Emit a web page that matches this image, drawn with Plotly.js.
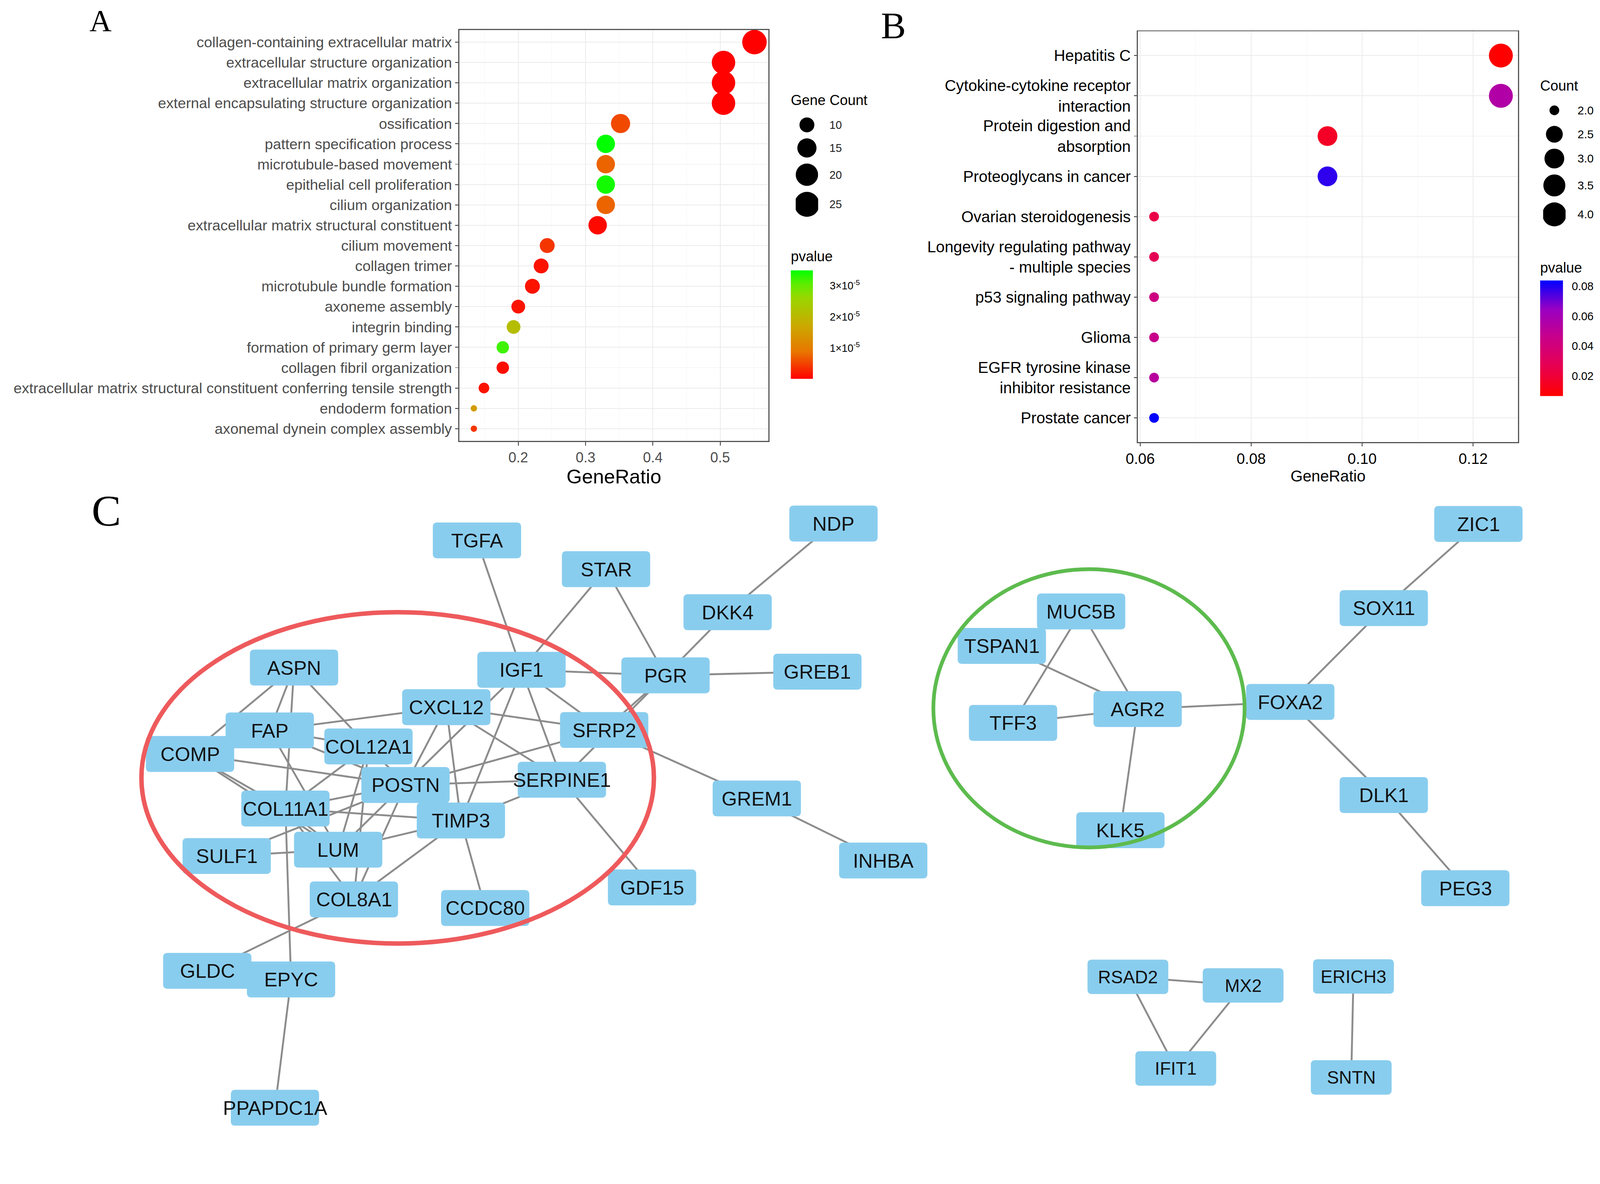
<!DOCTYPE html>
<html><head><meta charset="utf-8">
<script src="https://cdn.plot.ly/plotly-3.0.1.min.js"></script>
<style>html,body{margin:0;padding:0;background:#fff;overflow:hidden}#wrap{overflow:hidden;position:relative}#chart{width:4277px;height:3032px;transform-origin:0 0}</style>
</head><body><div id="wrap"><div id="chart"></div></div>
<script>
// ---------- Panel A: GO enrichment ----------
const termsA = [
  "collagen-containing extracellular matrix",
  "extracellular structure organization",
  "extracellular matrix organization",
  "external encapsulating structure organization",
  "ossification",
  "pattern specification process",
  "microtubule-based movement",
  "epithelial cell proliferation",
  "cilium organization",
  "extracellular matrix structural constituent",
  "cilium movement",
  "collagen trimer",
  "microtubule bundle formation",
  "axoneme assembly",
  "integrin binding",
  "formation of primary germ layer",
  "collagen fibril organization",
  "extracellular matrix structural constituent conferring tensile strength",
  "endoderm formation",
  "axonemal dynein complex assembly"
];
const ratioA = [0.551,0.505,0.505,0.505,0.352,0.330,0.330,0.330,0.330,0.318,0.243,0.234,0.221,0.200,0.193,0.177,0.177,0.149,0.134,0.134];
const countA = [24,22,22,22,15,14,14,14,14,14,10,10,10,9,9,8,8,7,6,6];
const pvalA  = [1.3e-7,3e-7,3e-7,3e-7,5.5e-6,3.49e-5,7.5e-6,3.4e-5,7.5e-6,8e-7,4e-6,1.5e-6,1.5e-6,1.5e-6,2.1e-5,3.2e-5,1e-6,1.5e-6,1.5e-5,4e-6];
const xTicksA = [0.2,0.3,0.4,0.5];
const legCountA = [10,15,20,25];
const cbTicksA = [1e-5,2e-5,3e-5];
const cbTextA = ["1×10<sup>-5</sup>","2×10<sup>-5</sup>","3×10<sup>-5</sup>"];

// ---------- Panel B: KEGG enrichment ----------
const termsB = [
  "Hepatitis C",
  "Cytokine-cytokine receptor<br>interaction",
  "Protein digestion and<br>absorption",
  "Proteoglycans in cancer",
  "Ovarian steroidogenesis",
  "Longevity regulating pathway<br>- multiple species",
  "p53 signaling pathway",
  "Glioma",
  "EGFR tyrosine kinase<br>inhibitor resistance",
  "Prostate cancer"
];
const ratioB = [0.125,0.125,0.09375,0.09375,0.0625,0.0625,0.0625,0.0625,0.0625,0.0625];
const countB = [4,4,3,3,2,2,2,2,2,2];
const pvalB  = [0.0068,0.055,0.016,0.078,0.024,0.028,0.043,0.046,0.052,0.0837];
const xTicksB = [0.06,0.08,0.10,0.12];
const xTickTextB = ["0.06","0.08","0.10","0.12"];
const legCountB = [2.0,2.5,3.0,3.5,4.0];
const cbTicksB = [0.02,0.04,0.06,0.08];

// ---------- Panel C: PPI network ----------
const nodeNames = ["TGFA","STAR","NDP","DKK4","IGF1","PGR","GREB1","ASPN","CXCL12","SFRP2","FAP","COL12A1","COMP","POSTN","SERPINE1","GREM1","COL11A1","TIMP3","SULF1","LUM","INHBA","COL8A1","CCDC80","GDF15","GLDC","EPYC","PPAPDC1A","MUC5B","TSPAN1","TFF3","AGR2","KLK5","FOXA2","ZIC1","SOX11","DLK1","PEG3","RSAD2","MX2","IFIT1","ERICH3","SNTN"];
const nodeX = [1275,1620,2228,1945,1394,1779,2185,786,1193,1615,721,985,508,1084,1502,2023,763,1232,606,904,2361,946,1297,1743,554,778,735,2890,2678,2708,3041,2995,3449,3952,3699,3699,3917,3015,3323,3143,3618,3612];
const nodeY = [1445,1522,1400,1637,1791,1806,1796,1785,1891,1952,1953,1996,2016,2099,2085,2135,2162,2194,2289,2272,2301,2405,2428,2373,2596,2619,2962,1635,1727,1933,1896,2220,1877,1401,1626,2126,2375,2612,2635,2857,2611,2881];
const smallNodes = ["RSAD2","MX2","IFIT1","ERICH3","SNTN"];
const edgeFrom = ["TGFA","STAR","STAR","NDP","DKK4","PGR","IGF1","PGR","PGR","IGF1","IGF1","IGF1","IGF1","SFRP2","GREM1","SERPINE1","ASPN","ASPN","ASPN","ASPN","FAP","FAP","FAP","FAP","COMP","COMP","COMP","COL12A1","COL12A1","COL12A1","COL12A1","CXCL12","CXCL12","CXCL12","CXCL12","POSTN","POSTN","POSTN","POSTN","SULF1","SULF1","COL11A1","COL11A1","COL11A1","COL11A1","TIMP3","TIMP3","TIMP3","TIMP3","COL8A1","EPYC","MUC5B","MUC5B","TSPAN1","TFF3","AGR2","AGR2","FOXA2","SOX11","FOXA2","DLK1","RSAD2","RSAD2","MX2","ERICH3"];
const edgeTo   = ["IGF1","IGF1","PGR","DKK4","PGR","GREB1","PGR","SFRP2","SERPINE1","SFRP2","SERPINE1","TIMP3","LUM","GREM1","INHBA","GDF15","COMP","FAP","COL11A1","COL12A1","CXCL12","COL12A1","POSTN","LUM","POSTN","COL11A1","LUM","COL11A1","LUM","COL8A1","POSTN","POSTN","TIMP3","SERPINE1","SFRP2","SFRP2","SERPINE1","COL11A1","COL8A1","POSTN","LUM","TIMP3","LUM","COL8A1","EPYC","SERPINE1","CCDC80","COL8A1","LUM","GLDC","PPAPDC1A","TFF3","AGR2","AGR2","AGR2","KLK5","FOXA2","SOX11","ZIC1","DLK1","PEG3","MX2","IFIT1","IFIT1","SNTN"];
const moduleNames = ["red","green"];

// ---------- helpers ----------
const W = 4277, H = 3032;
const px = v => v / W, py = v => 1 - v / H;
const FONT = "Liberation Sans, Arial, Helvetica, sans-serif";
const SERIF = "Liberation Serif, Times New Roman, serif";

const cMinA = Math.min(...countA), cMaxA = Math.max(...countA);
const sizeA = c => 17 + (65.5 - 17) * Math.sqrt(Math.max(0, c - cMinA) / (cMaxA - cMinA));
const cMinB = Math.min(...countB), cMaxB = Math.max(...countB);
const sizeB = c => 26 + (64 - 26) * Math.sqrt(Math.max(0, c - cMinB) / (cMaxB - cMinB));

const csA = [[0,"#FF0000"],[0.25,"rgb(232,118,0)"],[0.5,"rgb(201,171,0)"],[0.75,"rgb(152,215,0)"],[0.88,"rgb(90,238,0)"],[1,"#00FF00"]];
const csB = [[0,"#FF0000"],[0.25,"rgb(232,0,79)"],[0.5,"rgb(201,0,136)"],[0.75,"rgb(154,0,194)"],[1,"#0000FF"]];

function stackKeys(diams, start, gap, minStep) {
  const ys = [start];
  for (let i = 1; i < diams.length; i++) ys.push(ys[i-1] + Math.max((diams[i-1] + diams[i]) / 2 + gap, minStep));
  return ys;
}
const legDA = legCountA.map(sizeA), legYA = stackKeys(legDA, 334, 16, 0);
const legDB = legCountB.map(sizeB), legYB = stackKeys(legDB, 295, 16, 64);

const traces = [];
traces.push({
  type: "scatter", mode: "markers", x: ratioA, y: termsA, xaxis: "x", yaxis: "y", hoverinfo: "skip",
  marker: { size: countA.map(sizeA), opacity: 1, color: pvalA, colorscale: csA, cmin: Math.min(...pvalA), cmax: Math.max(...pvalA),
    line: { width: 0 }, showscale: true,
    colorbar: { x: px(2114), xanchor: "left", xpad: 0, ypad: 0, y: py(868), yanchor: "middle",
      len: 290, lenmode: "pixels", thickness: 59, thicknessmode: "pixels", outlinewidth: 0,
      tickvals: cbTicksA, ticktext: cbTextA, ticks: "outside", ticklen: 40, tickcolor: "rgba(0,0,0,0)",
      tickfont: { size: 28, color: "#000", family: FONT } } }
});
traces.push({
  type: "scatter", mode: "markers", x: ratioB, y: termsB, xaxis: "x2", yaxis: "y2", hoverinfo: "skip",
  marker: { size: countB.map(sizeB), opacity: 1, color: pvalB, colorscale: csB, cmin: Math.min(...pvalB), cmax: Math.max(...pvalB),
    line: { width: 0 }, showscale: true,
    colorbar: { x: px(4117), xanchor: "left", xpad: 0, ypad: 0, y: py(904.5), yanchor: "middle",
      len: 309, lenmode: "pixels", thickness: 61, thicknessmode: "pixels", outlinewidth: 0,
      tickvals: cbTicksB, ticktext: cbTicksB.map(v => v.toFixed(2)), ticks: "outside", ticklen: 18, tickcolor: "rgba(0,0,0,0)",
      tickfont: { size: 30, color: "#000", family: FONT } } }
});
traces.push({ type: "scatter", mode: "markers", x: legCountA.map(() => 0), y: legYA, xaxis: "x4", yaxis: "y4", hoverinfo: "skip",
  marker: { size: legDA, opacity: 1, color: "#000", line: { width: 0 } } });
traces.push({ type: "scatter", mode: "markers", x: legCountB.map(() => 0), y: legYB, xaxis: "x5", yaxis: "y5", hoverinfo: "skip",
  marker: { size: legDB, opacity: 1, color: "#000", line: { width: 0 } } });

const idx = {}; nodeNames.forEach((n, i) => idx[n] = i);
const ex = [], ey = [];
edgeFrom.forEach((a, i) => {
  const b = edgeTo[i];
  ex.push(nodeX[idx[a]], nodeX[idx[b]], null);
  ey.push(nodeY[idx[a]], nodeY[idx[b]], null);
});
traces.push({ type: "scatter", mode: "lines", x: ex, y: ey, xaxis: "x3", yaxis: "y3", hoverinfo: "skip",
  line: { color: "#8C8C8C", width: 5 } });

const shapes = [];
const R = 12;
nodeNames.forEach((n, i) => {
  const small = smallNodes.includes(n);
  const BW = small ? 216 : 236, BH = small ? 92 : 96;
  const x0 = nodeX[i] - BW/2, x1 = nodeX[i] + BW/2, y0 = nodeY[i] - BH/2, y1 = nodeY[i] + BH/2;
  const p = `M${x0+R},${y0} L${x1-R},${y0} Q${x1},${y0} ${x1},${y0+R} L${x1},${y1-R} Q${x1},${y1} ${x1-R},${y1} L${x0+R},${y1} Q${x0},${y1} ${x0},${y1-R} L${x0},${y0+R} Q${x0},${y0} ${x0+R},${y0} Z`;
  shapes.push({ type: "path", path: p, xref: "x3", yref: "y3", fillcolor: "#89CDEE", line: { width: 0 }, layer: "above" });
});
const ellColors = ["#EE5A5C", "#5DBB4E"];
const ellWidths = [12, 10];
const ellBoxes = [[378, 1748, 1637, 2523], [2495, 3327, 1522, 2266]];
moduleNames.forEach((m, k) => {
  const b = ellBoxes[k];
  shapes.push({ type: "circle", xref: "x3", yref: "y3", x0: b[0], x1: b[1], y0: b[2], y1: b[3],
    line: { color: ellColors[k], width: ellWidths[k] }, fillcolor: "rgba(0,0,0,0)", layer: "above" });
});

const ann = [];
const T = (x, y, text, size, opts) => Object.assign({ xref: "paper", yref: "paper", x: px(x), y: py(y), text: text, showarrow: false,
  xanchor: "left", yanchor: "middle", font: { family: FONT, size: size, color: "#000" } }, opts || {});
nodeNames.forEach((n, i) => ann.push({ xref: "x3", yref: "y3", x: nodeX[i], y: nodeY[i], text: n, showarrow: false,
  font: { family: FONT, size: smallNodes.includes(n) ? 48 : 53, color: "#111" }, xanchor: "center", yanchor: "middle" }));
ann.push(T(268, 54, "A", 82, { xanchor: "center", font: { family: SERIF, size: 82, color: "#000" } }));
ann.push(T(2388, 68, "B", 100, { xanchor: "center", font: { family: SERIF, size: 100, color: "#000" } }));
ann.push(T(284, 1366, "C", 118, { xanchor: "center", font: { family: SERIF, size: 118, color: "#000" } }));
ann.push(T(2112, 268, "Gene Count", 38));
ann.push(T(2112, 686, "pvalue", 38));
ann.push(T(4115, 229, "Count", 38));
ann.push(T(4115, 716, "pvalue", 38));
legCountA.forEach((c, i) => ann.push({ xref: "paper", yref: "y4", x: px(2215), y: legYA[i], xanchor: "left", yanchor: "middle", text: String(c), showarrow: false, font: { family: FONT, size: 30, color: "#222" } }));
legCountB.forEach((c, i) => ann.push({ xref: "paper", yref: "y5", x: px(4215), y: legYB[i], xanchor: "left", yanchor: "middle", text: c.toFixed(1), showarrow: false, font: { family: FONT, size: 31, color: "#000" } }));

const hidden = { visible: false, showgrid: false, zeroline: false, fixedrange: true };
const layout = {
  width: W, height: H, margin: { l: 0, r: 0, t: 0, b: 0, pad: 0 }, paper_bgcolor: "#fff", plot_bgcolor: "#fff",
  showlegend: false, font: { family: FONT, color: "#000" },
  xaxis: { domain: [px(1228), px(2054)], range: [0.1125, 0.5717], anchor: "y", tickvals: xTicksA, ticktext: xTicksA.map(v => v.toFixed(1)),
    ticks: "outside", ticklen: 9, tickwidth: 2, tickcolor: "#333", tickfont: { size: 38, color: "#4D4D4D" },
    showgrid: true, gridcolor: "#EBEBEB", gridwidth: 2, zeroline: false,
    minor: { dtick: 0.05, tick0: 0, showgrid: true, gridcolor: "#F4F4F4", gridwidth: 1 },
    showline: true, mirror: true, linecolor: "#555", linewidth: 3,
    title: { text: "GeneRatio", font: { size: 53, color: "#000" }, standoff: 6 } },
  yaxis: { domain: [py(1179), py(80)], anchor: "x", type: "category", categoryorder: "array", categoryarray: termsA,
    range: [termsA.length - 0.4, -0.6], ticks: "outside", ticklen: 9, tickwidth: 2, tickcolor: "#333",
    tickfont: { size: 39.5, color: "#4D4D4D" }, showgrid: true, gridcolor: "#EBEBEB", gridwidth: 2,
    showline: true, mirror: true, linecolor: "#555", linewidth: 3 },
  xaxis2: { domain: [px(3042), px(4058)], range: [0.0596, 0.1281], anchor: "y2", tickvals: xTicksB, ticktext: xTickTextB,
    ticks: "outside", ticklen: 8, tickwidth: 2, tickcolor: "#333", tickfont: { size: 40, color: "#000" },
    showgrid: true, gridcolor: "#EBEBEB", gridwidth: 2, zeroline: false,
    minor: { dtick: 0.01, tick0: 0, showgrid: true, gridcolor: "#F4F4F4", gridwidth: 1 },
    showline: true, mirror: true, linecolor: "#555", linewidth: 3,
    title: { text: "GeneRatio", font: { size: 42, color: "#000" }, standoff: 6 } },
  yaxis2: { domain: [py(1182), py(84)], anchor: "x2", type: "category", categoryorder: "array", categoryarray: termsB,
    range: [termsB.length - 0.4, -0.6], ticks: "outside", ticklen: 8, tickwidth: 2, tickcolor: "#333",
    tickfont: { size: 42, color: "#000" }, showgrid: true, gridcolor: "#EBEBEB", gridwidth: 2,
    showline: true, mirror: true, linecolor: "#555", linewidth: 3 },
  xaxis3: Object.assign({ domain: [0, 1], range: [0, W], anchor: "y3" }, hidden),
  yaxis3: Object.assign({ domain: [0, py(1340)], range: [H, 1340], anchor: "x3" }, hidden),
  xaxis4: Object.assign({ domain: [px(2127), px(2187)], range: [-1, 1], anchor: "y4" }, hidden),
  yaxis4: Object.assign({ domain: [py(620), py(300)], range: [620, 300], anchor: "x4" }, hidden),
  xaxis5: Object.assign({ domain: [px(4125), px(4185)], range: [-1, 1], anchor: "y5" }, hidden),
  yaxis5: Object.assign({ domain: [py(640), py(260)], range: [640, 260], anchor: "x5" }, hidden),
  shapes: shapes, annotations: ann
};
const el = document.getElementById("chart");
const wrap = document.getElementById("wrap");
const vw = window.innerWidth || document.documentElement.clientWidth || W;
const vh = window.innerHeight || document.documentElement.clientHeight || H;
let k = Math.min(vw / W, vh / H);
if (!(k > 0)) k = 1;
wrap.style.width = Math.floor(W * k) + "px";
wrap.style.height = Math.floor(H * k) + "px";
if (Math.abs(k - 1) > 0.002) el.style.transform = "scale(" + k + ")";
Plotly.newPlot(el, traces, layout, { staticPlot: true, displayModeBar: false });
</script></body></html>
